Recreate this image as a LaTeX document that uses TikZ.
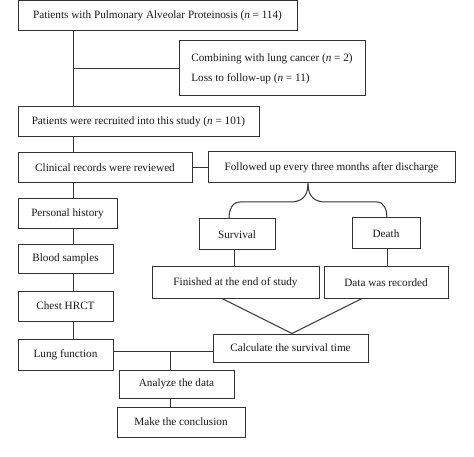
\documentclass[tikz,border=0pt]{standalone}
\usepackage{fontspec}
\setmainfont{Liberation Serif}
\begin{document}
\begin{tikzpicture}[x=1pt,y=-1pt,
  box/.style={draw=black!80, line width=1pt, inner sep=0pt, font=\fontsize{11.2}{13}\selectfont, text=black!90, anchor=center},
  conn/.style={draw=black!80, line width=1pt}]
\useasboundingbox[fill=white] (0,0) rectangle (474,457);
\node[box, minimum width=279pt, minimum height=30pt] (b1) at (157.5,16) {Patients with Pulmonary Alveolar Proteinosis (\textit{n} = 114)};
\node[box, minimum width=186pt, minimum height=55pt, align=left] (b2) at (272,68.5) {Combining with lung cancer (\textit{n} = 2)\\[7pt]Loss to follow-up (\textit{n} = 11)};
\node[box, minimum width=241pt, minimum height=30pt] (b3) at (138.5,122) {Patients were recruited into this study (\textit{n} = 101)};
\node[box, minimum width=174pt, minimum height=30pt] (b4) at (105,168) {Clinical records were reviewed};
\node[box, minimum width=247pt, minimum height=31pt] (b5) at (331.5,167.5) {Followed up every three months after discharge};
\node[box, minimum width=76pt, minimum height=31pt] (surv) at (237,234.5) {Survival};
\node[box, minimum width=68pt, minimum height=31pt] (death) at (386,233.5) {Death};
\node[box, minimum width=167pt, minimum height=31pt] (fin) at (235.5,282.5) {Finished at the end of study};
\node[box, minimum width=124pt, minimum height=31pt] (data) at (386,282.5) {Data was recorded};
\node[box, minimum width=99pt, minimum height=30pt] (pers) at (67.5,214) {Personal history};
\node[box, minimum width=95pt, minimum height=28pt] (blood) at (65.5,259) {Blood samples};
\node[box, minimum width=95pt, minimum height=30pt] (chest) at (65.5,306) {Chest HRCT};
\node[box, minimum width=95pt, minimum height=31pt] (lung) at (65.5,354.5) {Lung function};
\node[box, minimum width=155pt, minimum height=28pt] (calc) at (290.5,348) {Calculate the survival time};
\node[box, minimum width=115pt, minimum height=28pt] (anal) at (176.5,384) {Analyze the data};
\node[box, minimum width=128pt, minimum height=30pt] (make) at (181,422) {Make the conclusion};
% thick top edge
\draw[black!80, line width=2pt] (b1.north west) -- (b1.north east);
\coordinate (spine) at (73,0);
\coordinate (mid) at (170,351);
\coordinate (brtop) at (308,0);
\draw[conn] (b1.south -| spine) -- (b3.north -| spine);
\draw[conn] (b2.west -| spine) -- (b2.west);
\draw[conn] (b3.south -| spine) -- (b4.north -| spine);
\draw[conn] (b4.east) -- (b5.west |- b4.east);
\draw[conn] (b4.south -| spine) -- (pers.north -| spine);
\draw[conn] (pers.south -| spine) -- (blood.north -| spine);
\draw[conn] (blood.south -| spine) -- (chest.north -| spine);
\draw[conn] (chest.south -| spine) -- (lung.north -| spine);
% brace
\draw[conn] (b5.south -| brtop) .. controls (308,198) and (300,202) .. (290,202) -- (240,202) .. controls (232,202) and (229,210) .. (surv.north -| 229,0);
\draw[conn] (b5.south -| brtop) .. controls (308,198) and (316,202) .. (326,202) -- (377,202) .. controls (384,202) and (387,210) .. (death.north -| 387,0);
\draw[conn] (surv.south -| 234,0) -- (fin.north -| 234,0);
\draw[conn] (death.south -| 387,0) -- (data.north -| 387,0);
\draw[conn] (fin.south -| 222,0) -- (calc.north -| 292,0);
\draw[conn] (data.south -| 362,0) -- (calc.north -| 292,0);
\draw[conn] (lung.east |- mid) -- (calc.west |- mid);
\draw[conn] (mid) -- (anal.north -| mid);
\draw[conn] (anal.south -| mid) -- (make.north -| mid);
\end{tikzpicture}
\end{document}
